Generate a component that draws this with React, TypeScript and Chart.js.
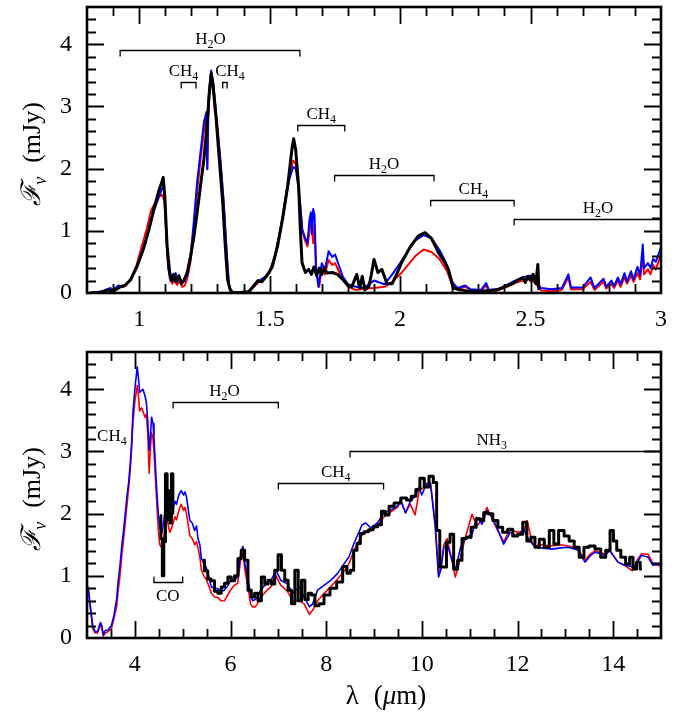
import React, { useEffect, useRef } from "react";
import { Chart, registerables } from "chart.js";

Chart.register(...registerables);

type Pt = [number, number | null];
type Band = {
  from: number;
  to: number;
  at: number;
  mol: string;
  labelAt: number;
  up?: boolean;
  noBar?: boolean;
};

// ---------- 0.8 – 3 µm spectrum ----------
const nirModelRed: Pt[] = [
  [0.81, 0.0], [0.86, 0.02], [0.89, 0.05], [0.91, 0.04], [0.93, 0.1], [0.95, 0.12], [0.97, 0.25],
  [0.99, 0.45], [1.01, 0.75], [1.03, 1.05], [1.045, 1.32], [1.06, 1.45], [1.075, 1.55], [1.09, 1.58],
  [1.097, 1.45], [1.103, 1.0], [1.11, 0.45], [1.118, 0.22], [1.127, 0.15], [1.135, 0.22], [1.145, 0.13],
  [1.155, 0.2], [1.165, 0.1], [1.175, 0.12], [1.185, 0.25], [1.197, 0.5], [1.21, 1.05], [1.222, 1.62],
  [1.235, 2.15], [1.248, 2.6], [1.258, 2.85], [1.261, 2.0], [1.265, 3.05], [1.27, 3.3], [1.276, 3.5],
  [1.283, 3.3], [1.29, 2.9], [1.297, 2.82], [1.305, 2.45], [1.315, 1.95], [1.324, 1.45], [1.337, 0.55],
  [1.345, 0.1], [1.355, 0.02], [1.4, 0.0], [1.42, 0.02], [1.44, 0.1], [1.46, 0.18], [1.48, 0.25],
  [1.5, 0.35], [1.52, 0.6], [1.54, 1.0], [1.56, 1.5], [1.575, 1.9], [1.59, 2.13], [1.6, 2.08],
  [1.61, 1.75], [1.618, 1.4], [1.625, 1.02], [1.635, 0.85], [1.645, 0.75], [1.655, 1.05], [1.66, 1.15],
  [1.667, 0.8], [1.672, 1.1], [1.678, 0.35], [1.69, 0.1], [1.7, 0.42], [1.712, 0.3], [1.726, 0.53],
  [1.74, 0.45], [1.751, 0.48], [1.765, 0.35], [1.78, 0.22], [1.8, 0.1], [1.83, 0.05], [1.86, 0.07],
  [1.9, 0.08], [1.94, 0.1], [1.97, 0.18], [2.0, 0.3], [2.03, 0.45], [2.06, 0.6], [2.09, 0.7],
  [2.12, 0.66], [2.15, 0.55], [2.18, 0.35], [2.2, 0.12], [2.22, 0.06], [2.25, 0.1], [2.27, 0.04],
  [2.31, 0.03], [2.33, 0.12], [2.34, 0.03], [2.38, 0.05], [2.41, 0.1], [2.44, 0.16], [2.47, 0.2],
  [2.5, 0.22], [2.52, 0.15], [2.54, 0.04], [2.58, 0.03], [2.62, 0.05], [2.645, 0.25], [2.655, 0.06],
  [2.7, 0.06], [2.73, 0.18], [2.745, 0.05], [2.78, 0.18], [2.79, 0.07], [2.81, 0.15], [2.82, 0.08],
  [2.835, 0.2], [2.845, 0.1], [2.86, 0.25], [2.87, 0.15], [2.885, 0.28], [2.895, 0.18], [2.91, 0.32],
  [2.92, 0.22], [2.93, 0.6], [2.935, 0.3], [2.95, 0.38], [2.96, 0.3], [2.97, 0.45], [2.98, 0.38],
  [3.0, 0.62],
];

const nirModelBlue: Pt[] = [
  [0.81, 0.0], [0.86, 0.03], [0.89, 0.08], [0.9, 0.05], [0.92, 0.12], [0.94, 0.1], [0.96, 0.18],
  [0.98, 0.32], [1.0, 0.52], [1.02, 0.78], [1.04, 1.05], [1.055, 1.3], [1.07, 1.48], [1.085, 1.65],
  [1.093, 1.72], [1.099, 1.5], [1.105, 0.9], [1.112, 0.4], [1.12, 0.2], [1.13, 0.25], [1.14, 0.32],
  [1.145, 0.18], [1.155, 0.25], [1.165, 0.17], [1.175, 0.2], [1.185, 0.3], [1.197, 0.6], [1.21, 1.18],
  [1.222, 1.78], [1.235, 2.26], [1.248, 2.75], [1.258, 2.91], [1.261, 1.99], [1.267, 3.23], [1.276, 3.58],
  [1.285, 3.35], [1.298, 2.69], [1.311, 2.15], [1.324, 1.45], [1.337, 0.54], [1.345, 0.1], [1.355, 0.02],
  [1.4, 0.0], [1.42, 0.03], [1.44, 0.12], [1.46, 0.2], [1.48, 0.25], [1.5, 0.33], [1.52, 0.58],
  [1.54, 0.98], [1.56, 1.45], [1.575, 1.82], [1.59, 2.03], [1.6, 2.0], [1.61, 1.72], [1.618, 1.38],
  [1.625, 1.02], [1.635, 0.9], [1.645, 0.8], [1.652, 1.15], [1.658, 1.3], [1.662, 0.95], [1.667, 1.35],
  [1.672, 1.25], [1.678, 0.4], [1.687, 0.1], [1.7, 0.48], [1.712, 0.38], [1.726, 0.67], [1.74, 0.58],
  [1.751, 0.62], [1.765, 0.45], [1.78, 0.27], [1.8, 0.14], [1.83, 0.1], [1.86, 0.08], [1.9, 0.2],
  [1.94, 0.14], [1.97, 0.3], [2.0, 0.48], [2.03, 0.68], [2.06, 0.85], [2.09, 0.93], [2.12, 0.88],
  [2.15, 0.7], [2.18, 0.45], [2.2, 0.18], [2.22, 0.08], [2.25, 0.12], [2.27, 0.06], [2.31, 0.05],
  [2.33, 0.16], [2.34, 0.05], [2.38, 0.07], [2.41, 0.13], [2.44, 0.2], [2.47, 0.25], [2.5, 0.28],
  [2.52, 0.18], [2.54, 0.08], [2.58, 0.06], [2.62, 0.08], [2.645, 0.3], [2.655, 0.09], [2.7, 0.09],
  [2.73, 0.25], [2.745, 0.08], [2.78, 0.23], [2.79, 0.1], [2.81, 0.2], [2.82, 0.11], [2.835, 0.25],
  [2.845, 0.14], [2.86, 0.32], [2.87, 0.18], [2.885, 0.35], [2.895, 0.22], [2.91, 0.42], [2.92, 0.28],
  [2.93, 0.78], [2.935, 0.4], [2.95, 0.48], [2.96, 0.4], [2.97, 0.55], [2.98, 0.5], [3.0, 0.73],
];

const nirObserved: Pt[] = [
  [0.81, 0.0], [0.85, 0.01], [0.878, 0.05], [0.9, 0.03], [0.928, 0.1], [0.945, 0.12], [0.967, 0.21],
  [0.992, 0.43], [1.018, 0.73], [1.037, 1.02], [1.056, 1.35], [1.075, 1.64], [1.084, 1.75], [1.092, 1.86],
  [1.098, 1.57], [1.107, 0.75], [1.117, 0.33], [1.125, 0.2], [1.132, 0.3], [1.14, 0.18], [1.152, 0.28],
  [1.162, 0.15], [1.171, 0.2], [1.184, 0.33], [1.197, 0.59], [1.21, 0.91], [1.222, 1.29], [1.235, 1.72],
  [1.248, 2.15], [1.258, 2.59], [1.267, 3.12], [1.276, 3.53], [1.283, 3.34], [1.292, 2.96], [1.302, 2.42],
  [1.311, 1.94], [1.321, 1.4], [1.33, 0.75], [1.339, 0.21], [1.349, 0.05], [1.36, 0.0], [1.42, 0.02],
  [1.44, 0.12], [1.455, 0.2], [1.47, 0.18], [1.49, 0.28], [1.51, 0.42], [1.53, 0.75], [1.55, 1.2],
  [1.57, 1.75], [1.585, 2.3], [1.592, 2.48], [1.6, 2.3], [1.611, 1.72], [1.618, 1.0], [1.624, 0.49],
  [1.637, 0.33], [1.65, 0.38], [1.66, 0.3], [1.67, 0.42], [1.68, 0.28], [1.69, 0.4], [1.7, 0.3],
  [1.71, 0.4], [1.72, 0.32], [1.74, 0.33], [1.76, 0.3], [1.78, 0.22], [1.8, 0.12], [1.815, 0.1],
  [1.834, 0.3], [1.845, 0.08], [1.855, 0.27], [1.865, 0.05], [1.88, 0.1], [1.89, 0.3], [1.9, 0.54],
  [1.915, 0.33], [1.93, 0.38], [1.95, 0.15], [1.97, 0.15], [1.99, 0.33], [2.006, 0.49], [2.04, 0.75],
  [2.07, 0.92], [2.096, 0.97], [2.12, 0.88], [2.147, 0.65], [2.17, 0.5], [2.185, 0.38], [2.204, 0.08],
  [2.23, 0.05], [2.26, 0.03], [2.3, 0.02], [2.34, 0.04], [2.37, 0.05], [2.4, 0.1], [2.43, 0.15],
  [2.45, 0.2], [2.47, 0.25], [2.48, 0.17], [2.49, 0.27], [2.5, 0.2], [2.51, 0.3], [2.52, 0.15],
  [2.528, 0.46], [2.532, 0.05],
];

// ---------- 3 – 15 µm spectrum ----------
const mirModelRed: Pt[] = [
  [3.0, 0.8], [3.03, 0.75], [3.08, 0.4], [3.12, 0.15], [3.17, 0.08], [3.22, 0.08], [3.28, 0.22],
  [3.31, 0.15], [3.34, 0.03], [3.38, 0.08], [3.44, 0.1], [3.51, 0.15], [3.56, 0.3], [3.62, 0.5],
  [3.65, 0.75], [3.69, 1.0], [3.73, 1.35], [3.76, 1.55], [3.8, 1.85], [3.83, 2.1], [3.87, 2.4],
  [3.9, 2.65], [3.93, 3.0], [3.96, 3.45], [4.0, 3.8], [4.05, 4.06], [4.08, 3.85], [4.1, 3.65],
  [4.14, 3.7], [4.17, 3.65], [4.21, 3.55], [4.24, 3.6], [4.27, 3.3], [4.3, 2.65], [4.33, 3.1],
  [4.35, 3.3], [4.38, 3.2], [4.4, 3.0], [4.45, 2.3], [4.49, 1.75], [4.52, 1.5], [4.57, 1.45],
  [4.6, 1.6], [4.63, 1.8], [4.66, 1.9], [4.69, 1.85], [4.73, 1.7], [4.76, 1.75], [4.8, 1.85],
  [4.84, 1.95], [4.87, 1.9], [4.92, 2.05], [4.97, 2.15], [5.02, 2.05], [5.05, 2.1], [5.08, 2.0],
  [5.12, 1.8], [5.15, 1.65], [5.2, 1.6], [5.25, 1.5], [5.29, 1.55], [5.32, 1.45], [5.36, 1.3],
  [5.39, 1.1], [5.44, 1.0], [5.49, 0.95], [5.54, 0.85], [5.6, 0.72], [5.67, 0.66], [5.74, 0.65],
  [5.8, 0.6], [5.875, 0.6], [5.95, 0.7], [6.01, 0.78], [6.08, 0.85], [6.15, 0.88], [6.22, 1.3],
  [6.26, 1.37], [6.3, 1.1], [6.37, 0.8], [6.42, 0.55], [6.46, 0.5], [6.52, 0.5], [6.56, 0.55],
  [6.63, 0.65], [6.74, 0.75], [6.85, 0.83], [6.95, 1.0], [7.05, 0.85], [7.19, 0.75], [7.3, 0.6],
  [7.44, 0.6], [7.54, 0.55], [7.65, 0.38], [7.72, 0.45], [7.82, 0.6], [7.96, 0.72], [8.1, 0.83],
  [8.24, 0.95], [8.38, 1.08], [8.48, 1.2], [8.58, 1.4], [8.69, 1.58], [8.75, 1.65], [8.83, 1.72],
  [8.93, 1.72], [9.07, 1.8], [9.21, 1.95], [9.35, 2.03], [9.49, 2.1], [9.56, 2.2], [9.66, 2.02],
  [9.76, 2.15], [9.86, 1.98], [9.94, 2.35], [10.0, 2.4], [10.1, 2.45], [10.18, 2.5], [10.28, 1.85],
  [10.35, 1.03], [10.4, 1.15], [10.46, 1.5], [10.53, 1.6], [10.6, 1.35], [10.7, 0.98], [10.81, 1.3],
  [10.91, 1.62], [11.05, 1.99], [11.15, 1.8], [11.26, 1.9], [11.36, 2.1], [11.47, 1.92], [11.57, 1.75],
  [11.71, 1.55], [11.85, 1.75], [11.99, 1.7], [12.13, 1.72], [12.2, 1.89], [12.3, 1.55], [12.37, 1.48],
  [12.5, 1.5], [12.72, 1.48], [12.9, 1.5], [13.06, 1.48], [13.27, 1.43], [13.41, 1.25], [13.52, 1.35],
  [13.62, 1.4], [13.83, 1.35], [13.93, 1.4], [14.1, 1.22], [14.24, 1.17], [14.4, 1.08], [14.5, 1.25],
  [14.59, 1.35], [14.73, 1.35], [14.83, 1.2], [15.0, 1.15],
];

const mirModelBlue: Pt[] = [
  [3.0, 0.85], [3.03, 0.79], [3.08, 0.45], [3.12, 0.2], [3.17, 0.1], [3.22, 0.1], [3.28, 0.25],
  [3.31, 0.2], [3.34, 0.05], [3.38, 0.12], [3.44, 0.13], [3.51, 0.2], [3.56, 0.35], [3.62, 0.63],
  [3.65, 0.9], [3.69, 1.17], [3.73, 1.5], [3.76, 1.7], [3.8, 2.0], [3.83, 2.24], [3.87, 2.5],
  [3.9, 2.77], [3.93, 3.1], [3.96, 3.63], [4.0, 4.0], [4.05, 4.36], [4.08, 4.15], [4.1, 3.95],
  [4.14, 3.98], [4.17, 4.0], [4.21, 3.9], [4.24, 3.8], [4.27, 3.5], [4.3, 3.02], [4.33, 3.3],
  [4.35, 3.55], [4.38, 3.45], [4.4, 3.23], [4.45, 2.48], [4.49, 2.0], [4.52, 1.78], [4.57, 1.7],
  [4.6, 1.85], [4.63, 2.05], [4.66, 2.2], [4.69, 2.15], [4.73, 2.0], [4.76, 1.94], [4.8, 2.1],
  [4.84, 2.2], [4.87, 2.15], [4.92, 2.3], [4.97, 2.37], [5.02, 2.3], [5.05, 2.35], [5.08, 2.27],
  [5.12, 2.05], [5.15, 1.89], [5.2, 1.85], [5.25, 1.73], [5.29, 1.8], [5.32, 1.6], [5.36, 1.5],
  [5.39, 1.28], [5.44, 1.2], [5.49, 1.14], [5.54, 1.0], [5.6, 0.82], [5.67, 0.8], [5.74, 0.79],
  [5.8, 0.75], [5.875, 0.77], [5.95, 0.85], [6.01, 0.93], [6.08, 0.93], [6.15, 0.98], [6.22, 1.4],
  [6.26, 1.47], [6.3, 1.2], [6.37, 0.93], [6.42, 0.7], [6.46, 0.6], [6.52, 0.62], [6.56, 0.66],
  [6.63, 0.77], [6.74, 0.87], [6.85, 0.93], [6.95, 1.09], [7.05, 0.93], [7.19, 0.87], [7.3, 0.72],
  [7.44, 0.82], [7.54, 0.66], [7.65, 0.5], [7.72, 0.55], [7.82, 0.77], [7.96, 0.85], [8.1, 0.93],
  [8.24, 1.04], [8.38, 1.2], [8.48, 1.31], [8.58, 1.52], [8.69, 1.71], [8.75, 1.82], [8.83, 1.85],
  [8.93, 1.77], [9.07, 1.85], [9.21, 2.01], [9.35, 2.06], [9.49, 2.12], [9.56, 2.22], [9.66, 2.01],
  [9.76, 2.2], [9.86, 2.28], [9.94, 2.42], [10.0, 2.3], [10.1, 2.49], [10.18, 2.49], [10.28, 1.79],
  [10.35, 0.98], [10.4, 1.1], [10.46, 1.46], [10.53, 1.51], [10.63, 1.25], [10.7, 1.09], [10.81, 1.46],
  [10.91, 1.6], [11.05, 1.67], [11.15, 1.94], [11.26, 1.83], [11.36, 2.05], [11.47, 1.94], [11.57, 1.78],
  [11.71, 1.51], [11.85, 1.7], [11.99, 1.64], [12.13, 1.75], [12.23, 1.59], [12.37, 1.46], [12.5, 1.45],
  [12.72, 1.43], [12.9, 1.45], [13.06, 1.46], [13.27, 1.41], [13.41, 1.22], [13.52, 1.32], [13.62, 1.38],
  [13.83, 1.33], [13.93, 1.41], [14.1, 1.22], [14.24, 1.17], [14.45, 1.14], [14.59, 1.33], [14.73, 1.3],
  [14.83, 1.17], [15.0, 1.19],
];

// binned observed spectrum; null marks the gap between the CO segment and the main range
const mirObserved: Pt[] = [
  [4.53, 1.97], [4.56, 1.6], [4.59, 1.0], [4.62, 1.55], [4.66, 2.64], [4.69, 1.9],
  [4.72, 2.37], [4.75, 1.85], [4.78, 2.64], [4.81, 2.0], [5.0, null],
  [5.42, 1.25], [5.49, 1.08], [5.56, 0.95], [5.63, 0.92], [5.7, 0.75], [5.77, 0.72],
  [5.84, 0.82], [5.91, 0.88], [5.98, 0.98], [6.05, 0.92], [6.12, 1.0], [6.19, 1.28],
  [6.26, 1.41], [6.33, 1.25], [6.4, 0.77], [6.47, 0.66], [6.54, 0.72], [6.61, 0.6], [6.68, 0.98],
  [6.75, 0.87], [6.82, 0.93], [6.89, 0.87], [6.96, 1.09], [7.03, 1.34], [7.1, 1.09], [7.17, 0.93],
  [7.24, 0.77], [7.31, 0.55], [7.38, 1.09], [7.45, 0.6], [7.52, 0.93], [7.59, 0.62],
  [7.66, 0.72], [7.73, 0.69], [7.8, 0.52], [7.9, 0.55], [8.01, 0.69],
  [8.15, 0.8], [8.29, 0.9], [8.4, 1.15], [8.47, 1.04], [8.54, 1.09], [8.61, 1.41], [8.68, 1.52],
  [8.75, 1.68], [8.84, 1.71], [8.93, 1.74], [9.03, 1.79], [9.12, 1.82], [9.19, 2.04], [9.28, 1.98],
  [9.35, 2.12], [9.49, 2.17], [9.63, 2.25], [9.73, 2.22], [9.83, 2.28], [9.92, 2.39], [10.0, 2.57],
  [10.1, 2.43], [10.2, 2.6], [10.28, 2.5], [10.34, 1.73], [10.41, 1.14], [10.48, 1.14],
  [10.55, 1.54], [10.63, 1.67], [10.7, 1.11], [10.8, 1.25], [10.88, 1.6], [10.98, 1.62], [11.08, 1.78],
  [11.19, 1.92], [11.26, 1.89], [11.33, 2.02], [11.43, 2.0], [11.54, 1.89], [11.64, 1.78], [11.74, 1.7],
  [11.85, 1.75], [11.95, 1.64], [12.06, 1.67], [12.16, 1.86], [12.23, 1.56], [12.33, 1.62], [12.4, 1.46],
  [12.51, 1.59], [12.61, 1.46], [12.72, 1.73], [12.8, 1.51], [12.92, 1.73], [13.03, 1.64], [13.13, 1.56],
  [13.24, 1.46], [13.34, 1.3], [13.44, 1.46], [13.55, 1.48], [13.69, 1.43], [13.79, 1.3], [13.9, 1.41],
  [13.97, 1.73], [14.04, 1.56], [14.11, 1.41], [14.21, 1.3], [14.31, 1.19], [14.38, 1.3], [14.45, 1.11],
  [14.53, 1.22], [14.6, 1.11],
];

// axis tick labels
const fluxTicks = [0, 1, 2, 3, 4];
const nirWaveTicks = [1, 1.5, 2, 2.5, 3];
const mirWaveTicks = [4, 6, 8, 10, 12, 14];

// molecular absorption bands (wavelength range, bar level in mJy, label centre)
const nirBands: Band[] = [
  { from: 0.927, to: 1.616, at: 3.91, mol: "H2O", labelAt: 1.273 },
  { from: 1.161, to: 1.218, at: 3.4, mol: "CH4", labelAt: 1.17 },
  { from: 1.32, to: 1.337, at: 3.4, mol: "CH4", labelAt: 1.348 },
  { from: 1.608, to: 1.788, at: 2.7, mol: "CH4", labelAt: 1.698 },
  { from: 1.749, to: 2.13, at: 1.9, mol: "H2O", labelAt: 1.938 },
  { from: 2.117, to: 2.437, at: 1.5, mol: "CH4", labelAt: 2.281 },
  { from: 2.437, to: 3.0, at: 1.195, mol: "H2O", labelAt: 2.759 },
];

const mirBands: Band[] = [
  { from: 3.0, to: 3.0, at: 3.07, mol: "CH4", labelAt: 3.52, noBar: true },
  { from: 4.8, to: 7.0, at: 3.79, mol: "H2O", labelAt: 5.875 },
  { from: 4.4, to: 5.0, at: 0.9, mol: "CO", labelAt: 4.69, up: true },
  { from: 7.0, to: 9.2, at: 2.5, mol: "CH4", labelAt: 8.2 },
  { from: 8.5, to: 15.0, at: 3.0, mol: "NH3", labelAt: 11.46 },
];

const SERIF = '"Liberation Serif", "Times New Roman", serif';

function drawFormula(ctx: CanvasRenderingContext2D, text: string, cx: number, baseline: number, size: number) {
  const main = `${size}px ${SERIF}`;
  const sub = `${Math.round(size * 0.7)}px ${SERIF}`;
  const parts = text.split("").map((ch) => ({ ch, isSub: /\d/.test(ch) }));
  let total = 0;
  const widths = parts.map((p) => {
    ctx.font = p.isSub ? sub : main;
    const w = ctx.measureText(p.ch).width;
    total += w;
    return w;
  });
  let x = cx - total / 2;
  ctx.textAlign = "left";
  ctx.textBaseline = "alphabetic";
  parts.forEach((p, i) => {
    ctx.font = p.isSub ? sub : main;
    ctx.fillText(p.ch, x, baseline + (p.isSub ? size * 0.28 : 0));
    x += widths[i];
  });
}

// frame with inward ticks on all four sides, band markers and axis titles
const framePlugin = {
  id: "frame",
  afterDatasetsDraw(chart: any, _args: any, opts: any) {
    const { ctx, chartArea: a, scales } = chart;
    const xs = scales.x;
    const ys = scales.y;
    ctx.save();
    ctx.strokeStyle = "#000";
    ctx.fillStyle = "#000";

    const isMajor = (v: number, m: number) => Math.abs(v / m - Math.round(v / m)) < 1e-6;
    const majorLen = 17;
    const minorLen = 9;
    ctx.lineWidth = 1.8;
    ctx.beginPath();
    for (let i = 1; ; i++) {
      const v = xs.min + i * opts.xMinor;
      if (v >= xs.max - 1e-9) break;
      const px = Math.round(xs.getPixelForValue(v)) + 0.5;
      const len = isMajor(v, opts.xMajor) ? majorLen : minorLen;
      ctx.moveTo(px, a.bottom);
      ctx.lineTo(px, a.bottom - len);
      ctx.moveTo(px, a.top);
      ctx.lineTo(px, a.top + len);
    }
    for (let i = 1; ; i++) {
      const v = ys.min + i * opts.yMinor;
      if (v >= ys.max - 1e-9) break;
      const py = Math.round(ys.getPixelForValue(v)) + 0.5;
      const len = isMajor(v, opts.yMajor) ? majorLen : minorLen;
      ctx.moveTo(a.left, py);
      ctx.lineTo(a.left + len, py);
      ctx.moveTo(a.right, py);
      ctx.lineTo(a.right - len, py);
    }
    ctx.stroke();

    ctx.lineWidth = 2.6;
    ctx.strokeRect(a.left, a.top, a.right - a.left, a.bottom - a.top);

    // band markers
    ctx.lineWidth = 1.3;
    (opts.bands as Band[]).forEach((b) => {
      const y = Math.round(ys.getPixelForValue(b.at)) + 0.5;
      if (!b.noBar) {
        const x1 = xs.getPixelForValue(b.from);
        const x2 = Math.min(xs.getPixelForValue(b.to), a.right);
        const d = b.up ? -6 : 6;
        ctx.beginPath();
        ctx.moveTo(x1, y + d);
        ctx.lineTo(x1, y);
        ctx.lineTo(x2, y);
        if (b.to < xs.max) ctx.lineTo(x2, y + d);
        ctx.stroke();
      }
      const lx = xs.getPixelForValue(b.labelAt);
      const base = b.up ? y + 18 : y - 7;
      drawFormula(ctx, b.mol, lx, base, 17);
    });

    // y-axis title: script F with subscript nu, rotated
    const cy = (a.top + a.bottom) / 2 + 4;
    ctx.translate(40, cy);
    ctx.rotate(-Math.PI / 2);
    const fFont = `italic 27px "DejaVu Serif", ${SERIF}`;
    const nuFont = `italic 18px ${SERIF}`;
    const unitFont = `26px ${SERIF}`;
    const fChar = "\u2131";
    ctx.font = fFont;
    const wF = ctx.measureText(fChar).width;
    ctx.font = nuFont;
    const wNu = ctx.measureText("\u03bd").width;
    ctx.font = unitFont;
    const unit = "  (mJy)";
    const wU = ctx.measureText(unit).width;
    let x = -(wF + wNu + wU) / 2;
    ctx.textAlign = "left";
    ctx.textBaseline = "alphabetic";
    ctx.font = fFont;
    ctx.fillText(fChar, x, 0);
    x += wF;
    ctx.font = nuFont;
    ctx.fillText("\u03bd", x - 1, 6);
    x += wNu;
    ctx.font = unitFont;
    ctx.fillText(unit, x, 0);
    ctx.setTransform(1, 0, 0, 1, 0, 0);

    // x-axis title
    if (opts.xTitle) {
      const cx = (a.left + a.right) / 2 + 12;
      const base = a.bottom + 66;
      const lam = "\u03bb";
      const gap = 15;
      ctx.font = `27px ${SERIF}`;
      const wL = ctx.measureText(lam).width;
      const wO = ctx.measureText("(").width;
      const wC = ctx.measureText("m)").width;
      ctx.font = `italic 27px ${SERIF}`;
      const wMu = ctx.measureText("\u03bc").width;
      let tx = cx - (wL + gap + wO + wMu + wC) / 2;
      ctx.textAlign = "left";
      ctx.font = `27px ${SERIF}`;
      ctx.fillText(lam, tx, base);
      tx += wL + gap;
      ctx.fillText("(", tx, base);
      tx += wO;
      ctx.font = `italic 27px ${SERIF}`;
      ctx.fillText("\u03bc", tx, base);
      tx += wMu;
      ctx.font = `27px ${SERIF}`;
      ctx.fillText("m)", tx, base);
    }
    ctx.restore();
  },
};

type PanelSpec = {
  red: Pt[];
  blue: Pt[];
  obs: Pt[];
  obsStepped: boolean;
  modelWidth: number;
  xMin: number;
  xMax: number;
  xTicks: number[];
  xMinor: number;
  xMajor: number;
  padTop: number;
  xAxisHeight: number;
  bands: Band[];
  xTitle: boolean;
};

const toXY = (pts: Pt[]) => pts.map(([x, y]) => ({ x, y }));

// the axes reserve no extra margin for overhanging labels
const clearScalePadding = (s: any) => {
  s.paddingTop = 0;
  s.paddingBottom = 0;
  s.paddingLeft = 0;
  s.paddingRight = 0;
};

function makeConfig(p: PanelSpec): any {
  const tickFont = { family: SERIF, size: 24 };
  return {
    type: "line",
    data: {
      datasets: [
        {
          data: toXY(p.obs),
          borderColor: "#000000",
          borderWidth: 3,
          stepped: p.obsStepped ? "middle" : false,
          spanGaps: false,
          order: 0,
        },
        { data: toXY(p.blue), borderColor: "#0000ff", borderWidth: p.modelWidth, order: 1 },
        { data: toXY(p.red), borderColor: "#ff0000", borderWidth: p.modelWidth, order: 2 },
      ].map((d) => ({
        pointRadius: 0,
        tension: 0,
        fill: false,
        borderJoinStyle: "round",
        ...d,
      })),
    },
    options: {
      animation: false,
      responsive: false,
      devicePixelRatio: 1,
      events: [],
      layout: { padding: { top: p.padTop, right: 25, left: 0, bottom: 0 } },
      plugins: {
        legend: { display: false },
        tooltip: { enabled: false },
        frame: {
          xMinor: p.xMinor,
          xMajor: p.xMajor,
          yMinor: 0.2,
          yMajor: 1,
          bands: p.bands,
          xTitle: p.xTitle,
        },
      },
      scales: {
        x: {
          type: "linear",
          min: p.xMin,
          max: p.xMax,
          grid: { display: false, drawTicks: false },
          border: { display: false },
          afterBuildTicks: (s: any) => {
            s.ticks = p.xTicks.map((v) => ({ value: v }));
          },
          afterFit: (s: any) => {
            s.height = p.xAxisHeight;
            clearScalePadding(s);
          },
          ticks: {
            font: tickFont,
            color: "#000",
            padding: 12,
            maxRotation: 0,
            autoSkip: false,
            callback: (v: number) => String(v),
          },
        },
        y: {
          type: "linear",
          min: 0,
          max: 4.6,
          grid: { display: false, drawTicks: false },
          border: { display: false },
          afterBuildTicks: (s: any) => {
            s.ticks = fluxTicks.map((v) => ({ value: v }));
          },
          afterFit: (s: any) => {
            s.width = 87;
            clearScalePadding(s);
          },
          ticks: {
            font: tickFont,
            color: "#000",
            padding: 15,
            autoSkip: false,
            callback: (v: number) => String(v),
          },
        },
      },
    },
    plugins: [framePlugin],
  };
}

export default function App() {
  const nirRef = useRef<HTMLCanvasElement>(null);
  const mirRef = useRef<HTMLCanvasElement>(null);

  useEffect(() => {
    document.body.style.margin = "0";
    const top = new Chart(
      nirRef.current!,
      makeConfig({
        red: nirModelRed,
        blue: nirModelBlue,
        obs: nirObserved,
        obsStepped: false,
        modelWidth: 2,
        xMin: 0.8,
        xMax: 3,
        xTicks: nirWaveTicks,
        xMinor: 0.1,
        xMajor: 0.5,
        padTop: 7,
        xAxisHeight: 47,
        bands: nirBands,
        xTitle: false,
      })
    );
    const bottom = new Chart(
      mirRef.current!,
      makeConfig({
        red: mirModelRed,
        blue: mirModelBlue,
        obs: mirObserved,
        obsStepped: true,
        modelWidth: 1.6,
        xMin: 3,
        xMax: 15,
        xTicks: mirWaveTicks,
        xMinor: 0.5,
        xMajor: 2,
        padTop: 12,
        xAxisHeight: 75,
        bands: mirBands,
        xTitle: true,
      })
    );
    return () => {
      top.destroy();
      bottom.destroy();
    };
  }, []);

  return (
    <div style={{ position: "relative", width: 686, height: 713, background: "#ffffff" }}>
      <canvas ref={nirRef} width={686} height={340} style={{ position: "absolute", left: 0, top: 0 }} />
      <canvas ref={mirRef} width={686} height={373} style={{ position: "absolute", left: 0, top: 340 }} />
    </div>
  );
}
